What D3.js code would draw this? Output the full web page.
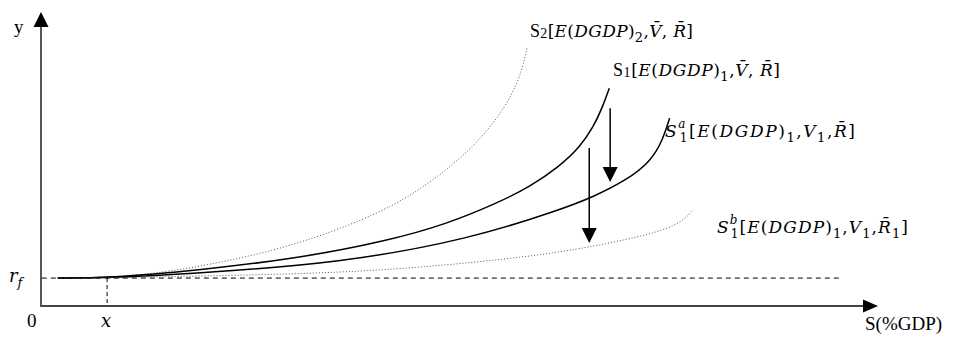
<!DOCTYPE html>
<html>
<head>
<meta charset="utf-8">
<script src="https://cdn.jsdelivr.net/npm/d3@7"></script>
<style>
  body { margin: 0; background: #fff; }
  svg { display: block; }
  .lbl { font-family: "DejaVu Serif", serif; font-size: 17px; fill: #000; }
  .axlbl { font-family: "Liberation Serif", "DejaVu Serif", serif; font-size: 19px; fill: #000; }
</style>
</head>
<body>
<div id="viz"></div>
<script>
// values, x = S(%GDP), y = yield (arbitrary units 0..100)
var rf = 9.5;
var xMark = 7.9;
var s2X  = [2.0, 7.9, 15.4, 22.9, 30.9, 40.7, 46.5, 51.3, 54.2, 56.3, 57.5, 58.1];
var s2Y  = [9.5, 9.5, 11.6, 15.6, 21.1, 31.6, 41.8, 53.1, 62.6, 71.8, 80.3, 88.1];
var s1X  = [2.0, 7.9, 19.0, 30.9, 41.3, 48.5, 54.5, 58.4, 62.0, 64.4, 66.0, 67.1, 67.9];
var s1Y  = [9.5, 9.5, 12.2, 16.3, 22.1, 27.9, 35.0, 40.5, 47.6, 54.1, 60.9, 67.7, 74.1];
var s1aX = [2.0, 7.9, 19.0, 35.7, 51.3, 62.0, 66.0, 70.0, 72.8, 74.3, 75.1];
var s1aY = [9.5, 9.5, 11.2, 14.6, 22.8, 32.7, 37.1, 42.9, 49.0, 56.5, 63.9];
var s1bX = [2.0, 7.9, 19.0, 35.7, 48.9, 62.0, 70.4, 74.6, 76.9, 77.9];
var s1bY = [9.5, 9.5, 10.2, 11.2, 13.9, 18.0, 22.8, 25.9, 29.3, 32.7];
// shift arrows: x, y start, y tip
var arrowX    = [68.0, 65.5];
var arrowFrom = [67.3, 53.7];
var arrowTo   = [42.2, 21.4];

var svg = d3.select('#viz').append('svg')
  .attr('width', 960)
  .attr('height', 338);

var x = d3.scaleLinear().domain([0, 100]).range([41, 878]);
var y = d3.scaleLinear().domain([0, 100]).range([306, 12]);

function pts(xs, ys) {
  return xs.map(function (d, i) { return [d, ys[i]]; });
}

var line = d3.line()
  .x(function (d) { return x(d[0]); })
  .y(function (d) { return y(d[1]); })
  .curve(d3.curveBasis);

// axes
svg.append('line')
  .attr('x1', x(0)).attr('y1', y(0))
  .attr('x2', x(100) - 12).attr('y2', y(0))
  .attr('stroke', '#444').attr('stroke-width', 1.8);
svg.append('path')
  .attr('d', 'M' + x(100) + ',' + y(0) + 'l-15,-6.5l0,13z')
  .attr('fill', '#000');
svg.append('line')
  .attr('x1', x(0)).attr('y1', y(0) + 1)
  .attr('x2', x(0)).attr('y2', y(100) + 12)
  .attr('stroke', '#444').attr('stroke-width', 1.8);
svg.append('path')
  .attr('d', 'M' + x(0) + ',' + y(100) + 'l-7.5,15l15,0z')
  .attr('fill', '#000');

// rf line and x marker
svg.append('line')
  .attr('x1', x(0.1)).attr('y1', y(rf))
  .attr('x2', x(95.5)).attr('y2', y(rf))
  .attr('stroke', '#000').attr('stroke-width', 1)
  .attr('stroke-dasharray', '5,4');
svg.append('line')
  .attr('x1', x(xMark)).attr('y1', y(rf))
  .attr('x2', x(xMark)).attr('y2', y(0))
  .attr('stroke', '#000').attr('stroke-width', 1)
  .attr('stroke-dasharray', '4,3');

// curves
var curves = [
  { d: pts(s2X, s2Y), dotted: true },
  { d: pts(s1X, s1Y), dotted: false },
  { d: pts(s1aX, s1aY), dotted: false },
  { d: pts(s1bX, s1bY), dotted: true }
];
curves.forEach(function (c) {
  svg.append('path')
    .attr('d', line(c.d))
    .attr('fill', 'none')
    .attr('stroke', c.dotted ? '#555' : '#000')
    .attr('stroke-width', c.dotted ? 1 : 1.5)
    .attr('stroke-dasharray', c.dotted ? '1,2' : null);
});

// shift arrows
arrowX.forEach(function (ax, i) {
  svg.append('line')
    .attr('x1', x(ax)).attr('y1', y(arrowFrom[i]))
    .attr('x2', x(ax)).attr('y2', y(arrowTo[i]) - 10)
    .attr('stroke', '#000').attr('stroke-width', 1.5);
  svg.append('path')
    .attr('d', 'M' + x(ax) + ',' + y(arrowTo[i]) + 'l-7.5,-15l15,0z')
    .attr('fill', '#000');
});

// labels with sub / superscripts
function addLabel(px, py, parts, cls, len) {
  var t = svg.append('text').attr('x', px).attr('y', py).attr('class', cls || 'lbl');
  var shift = 0, prev = null;
  parts.forEach(function (p) {
    var target = p.sub ? (p.sub === true ? 5 : p.sub) : p.sup ? -9 : 0;
    var ts = t.append('tspan').text(p.t)
      .attr('dy', target - shift)
      .style('font-style', p.i ? 'italic' : 'normal')
      .style('font-family', p.f || null)
      .style('font-size', p.fs || ((p.sub || p.sup) ? '13px' : null));
    if (p.stack && prev) ts.attr('dx', -prev.node().getComputedTextLength());
    shift = target;
    prev = ts;
  });
  if (len) t.attr('textLength', len).attr('lengthAdjust', 'spacing');
}

var TIMES = '"Liberation Serif", serif';
var labelS2 = [
  { t: 'S', f: TIMES, fs: '18px' }, { t: '2', sub: 1, f: TIMES, fs: '14px' },
  { t: '[' }, { t: 'E', i: true }, { t: '(' }, { t: 'DGDP', i: true }, { t: ')' },
  { t: '2', sub: true }, { t: ',' }, { t: 'V\u0304', i: true }, { t: ', ' },
  { t: 'R\u0304', i: true }, { t: ']' }
];
var labelS1 = [
  { t: 'S', f: TIMES, fs: '18px' }, { t: '1', sub: 1, f: TIMES, fs: '14px' },
  { t: '[' }, { t: 'E', i: true }, { t: '(' }, { t: 'DGDP', i: true }, { t: ')' },
  { t: '1', sub: true }, { t: ',' }, { t: 'V\u0304', i: true }, { t: ', ' },
  { t: 'R\u0304', i: true }, { t: ']' }
];
var labelS1a = [
  { t: 'S', i: true }, { t: 'a', sup: true, i: true, fs: '12px' }, { t: '1', sub: true, stack: true, fs: '12px' },
  { t: '[' }, { t: 'E', i: true }, { t: '(' }, { t: 'DGDP', i: true }, { t: ')' },
  { t: '1', sub: true }, { t: ',' }, { t: 'V', i: true }, { t: '1', sub: true },
  { t: ',' }, { t: 'R\u0304', i: true }, { t: ']' }
];
var labelS1b = [
  { t: 'S', i: true }, { t: 'b', sup: true, i: true, fs: '12px' }, { t: '1', sub: true, stack: true, fs: '12px' },
  { t: '[' }, { t: 'E', i: true }, { t: '(' }, { t: 'DGDP', i: true }, { t: ')' },
  { t: '1', sub: true }, { t: ',' }, { t: 'V', i: true }, { t: '1', sub: true },
  { t: ',' }, { t: 'R\u0304', i: true }, { t: '1', sub: true }, { t: ']' }
];

addLabel(530, 37, labelS2, null, 163);
addLabel(613, 76, labelS1, null, 167);
addLabel(665, 137, labelS1a, null, 190);
addLabel(717, 233, labelS1b, null, 191);

// axis labels
var DJV = '"DejaVu Serif", serif';
addLabel(14, 33, [{ t: 'y' }], 'axlbl');
addLabel(27, 327, [{ t: '0' }], 'axlbl');
addLabel(101, 327, [{ t: 'x', i: true, f: DJV, fs: '18px' }], 'axlbl');
addLabel(9, 282, [{ t: 'r', i: true, f: DJV, fs: '18px' }, { t: 'f', sub: true, i: true, f: DJV, fs: '13px' }], 'axlbl');
addLabel(865, 330, [{ t: 'S(%GDP)' }], 'axlbl');
</script>
</body>
</html>
